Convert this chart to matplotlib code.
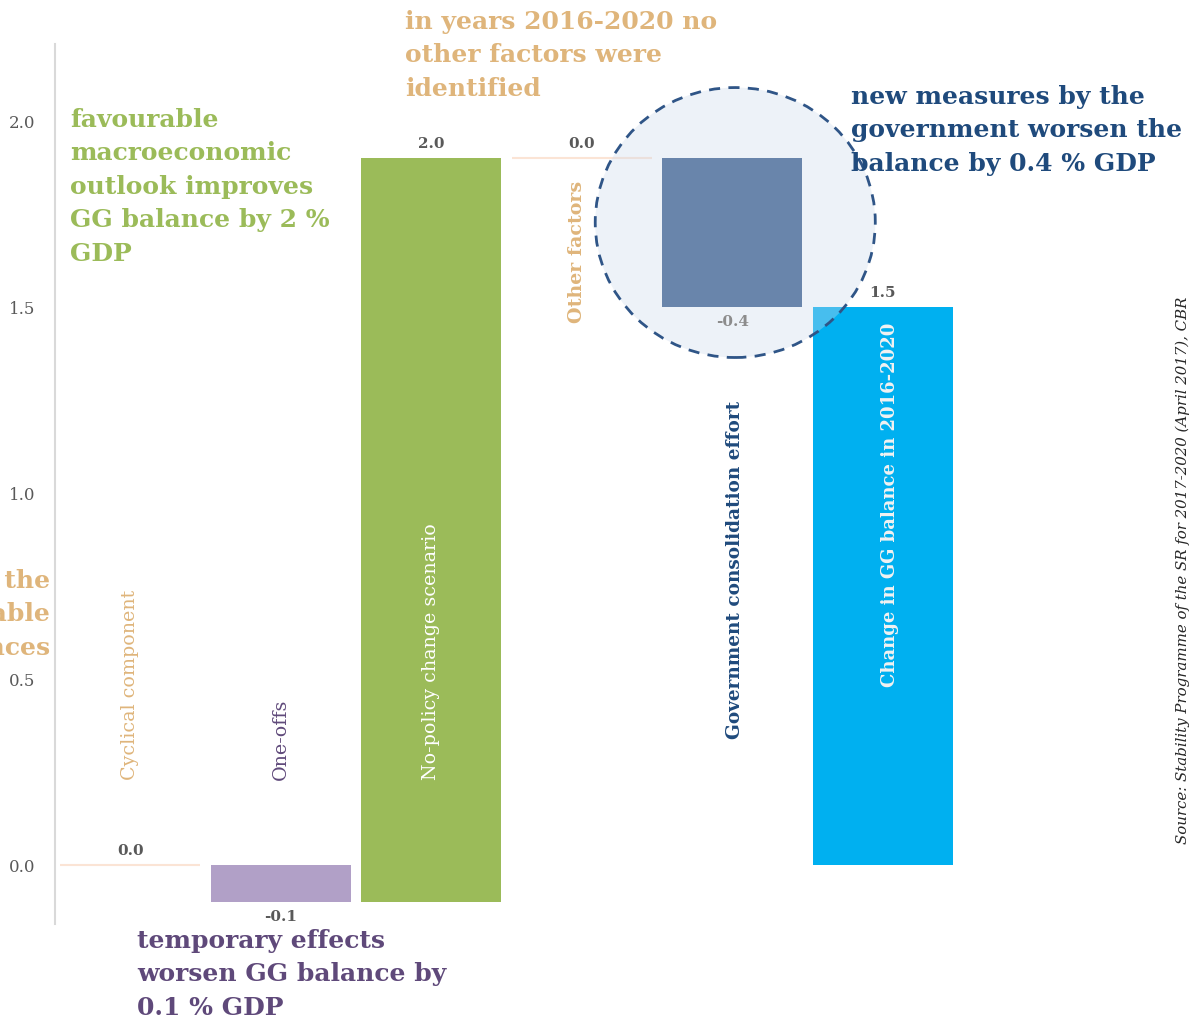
import matplotlib.pyplot as plt
from matplotlib.patches import Ellipse

# data
categories = ['Cyclical component', 'One-offs', 'No-policy change scenario',
              'Other factors', 'Government consolidation effort',
              'Change in GG balance in 2016-2020']
values = [0.0, -0.1, 2.0, 0.0, -0.4, 1.5]
value_labels = ['0.0', '-0.1', '2.0', '0.0', '-0.4', '1.5']
yticks = [0.0, 0.5, 1.0, 1.5, 2.0]

# waterfall bottoms (the last bar is the total)
bottoms = []
heights = []
running = 0.0
for i, v in enumerate(values):
    if i == len(values) - 1:
        bottoms.append(0.0)
        heights.append(v)
    else:
        bottoms.append(running)
        # the no-policy bar ends at 1.9 in the source (rounded label 2.0)
        h = 1.9 - running if i == 2 else v
        heights.append(h)
        running += h

bar_colors = ['#fbe4d5', '#b1a0c7', '#9bbb59', '#fbe4d5', '#34598a', '#00b0f0']
lab_colors = ['#dfb57b', '#5f497a', 'white', '#dfb57b', '#1f4a7c', '#f2f2f2']
lab_weight = ['normal', 'normal', 'normal', 'bold', 'bold', 'bold']
lab_size = [13.7, 13.7, 13.7, 13.7, 13.3, 13.0]
lab_y = [0.23, 0.23, 0.23, 1.46, 0.34, 0.48]
lab_dx = [0, 0, 0, -0.03, 0.02, 0.05]

serif = 'DejaVu Serif'
W, H = 1195, 1020
fig = plt.figure(figsize=(W / 100, H / 100), dpi=100)
ax = fig.add_axes([55 / W, 1 - 925 / H, 903 / W, 880 / H])

x = list(range(len(categories)))
for i in x:
    if values[i] == 0:
        ax.hlines(bottoms[i], i - 0.465, i + 0.465, color=bar_colors[i], lw=1.5, zorder=2)
    else:
        ax.bar(i, heights[i], bottom=bottoms[i], width=0.93, color=bar_colors[i], zorder=2)

# value labels
for i in x:
    top = bottoms[i] + max(heights[i], 0)
    low = bottoms[i] + min(heights[i], 0)
    if values[i] < 0:
        ax.annotate(value_labels[i], (i, low), xytext=(0, -5), textcoords='offset points',
                    ha='center', va='top', fontsize=11, fontweight='bold', family=serif,
                    color='#8c8c8c' if i == 4 else '#595959', zorder=5)
    else:
        ax.annotate(value_labels[i], (i, top), xytext=(0, 6), textcoords='offset points',
                    ha='center', va='bottom', fontsize=11, fontweight='bold', family=serif,
                    color='#595959', zorder=5)

# category labels, rotated
for i in x:
    ax.text(i + lab_dx[i], lab_y[i], categories[i], rotation=90, ha='center', va='bottom',
            fontsize=lab_size[i], color=lab_colors[i], fontweight=lab_weight[i],
            family=serif, zorder=6)

# highlight circle around the consolidation effort
circ = Ellipse((4.02, 1.727), 281 / 151, 270 / 372, facecolor='#cedaeb', alpha=0.35,
               edgecolor='none', zorder=3)
ax.add_patch(circ)
ring = Ellipse((4.02, 1.727), 281 / 151, 270 / 372, facecolor='none', edgecolor='#2f5587',
               lw=2, linestyle=(0, (4, 3)), zorder=4, clip_on=False)
ax.add_patch(ring)

ax.set_xlim(-0.5, 5.5)
ax.set_ylim(-0.159, 2.207)
ax.set_yticks(yticks)
ax.set_yticklabels(['%.1f' % t for t in yticks], family=serif, fontsize=12, color='#595959')
ax.tick_params(axis='y', length=0, pad=14)
ax.set_xticks([])
for s in ['top', 'right', 'bottom']:
    ax.spines[s].set_visible(False)
ax.spines['left'].set_color('#d9d9d9')
ax.spines['left'].set_linewidth(1.5)
ax.set_facecolor('none')


def note(px, py, txt, color, **kw):
    fig.text(px / W, 1 - py / H, txt, color=color, family=serif, fontweight='bold',
             fontsize=18, va='top', linespacing=1.5, **kw)


note(70, 108, 'favourable\nmacroeconomic\noutlook improves\nGG balance by 2 %\nGDP', '#9bbb59')
note(405, 10, 'in years 2016-2020 no\nother factors were\nidentified', '#dfb57b')
note(851, 85, 'new measures by the\ngovernment worsen the\nbalance by 0.4 % GDP', '#1f4a7c')
note(137, 929, 'temporary effects\nworsen GG balance by\n0.1 % GDP', '#5f497a')
note(50, 569, 'cycle has no effect on the\nlong-term sustainable\npublic finances', '#dfb57b',
     ha='right', multialignment='right')

fig.text(1183 / W, 1 - 570 / H, 'Source: Stability Programme of the SR for 2017-2020 (April 2017), CBR',
         rotation=90, ha='center', va='center', fontsize=10.8, style='italic', family=serif,
         color='#262626')

fig.savefig('out.png', dpi=100)
